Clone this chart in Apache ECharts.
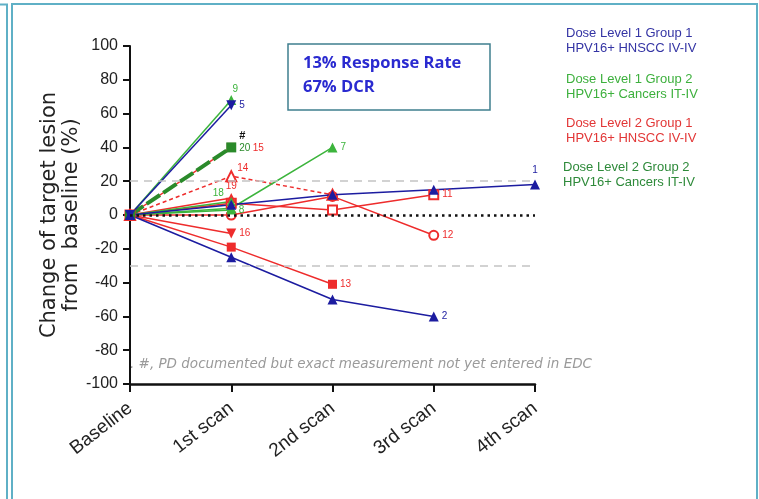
<!DOCTYPE html>
<html><head><meta charset="utf-8">
<script src="https://cdn.jsdelivr.net/npm/echarts@6/dist/echarts.min.js"></script>
<style>html,body{margin:0;padding:0;background:#fff}#c{width:759px;height:499px}</style>
</head><body><div id="c"></div>
<script>
const categories = ['Baseline', '1st scan', '2nd scan', '3rd scan', '4th scan'];
const yMin = -100, yMax = 100, yStep = 20;
const refLines = [20, -30];
const zeroLine = 0;

// patient values (% change from baseline) per scan
const p1 = [0, 6, 12, 15, 18];
const p2 = [0, -25, -50, -60];
const p5 = [0, 65];
const p7 = [0, 4, 40];
const p8 = [0, 3];
const p9 = [0, 68];
const p11 = [0, 7, 3, 12];
const p12 = [0, 0, 11, -12];
const p13 = [0, -19, -41];
const p14 = [0, 23, 12];
const p15 = [0, 40];
const p16 = [0, -11];
const p18 = [0, 8];
const p19 = [0, 10];
const p20 = [0, 40];

const groupNames = [
  ['Dose Level 1 Group 1', 'HPV16+ HNSCC IV-IV'],
  ['Dose Level 1 Group 2', 'HPV16+ Cancers IT-IV'],
  ['Dose Level 2 Group 1', 'HPV16+ HNSCC IV-IV'],
  ['Dose Level 2 Group 2', 'HPV16+ Cancers IT-IV']
];
const boxLines = ['13% Response Rate', '67% DCR'];
const noteText = '. #, PD documented but exact measurement not yet entered in EDC';

const C = {
  blue: '#1c1ca0',
  green: '#3cb43c',
  red: '#ee2c2c',
  dgreen: '#2a8a2a'
};
const legendColors = ['#3434a4', '#3db03d', '#e23636', '#2e8a3a'];

function mk(id, data, color, opt) {
  opt = opt || {};
  const labelIdx = opt.labelIdx !== undefined ? opt.labelIdx : data.length - 1;
  const sym = opt.symbol || 'triangle';
  return {
    type: 'line',
    name: 'P' + id,
    data: data.map((v, i) => {
      const d = { value: v };
      if (i === labelIdx) {
        d.label = Object.assign({
          show: true,
          formatter: opt.text || String(id),
          position: opt.pos || 'right',
          distance: 3,
          color: color,
          fontSize: 10,
          fontFamily: 'Arial'
        }, opt.label || {});
      }
      return d;
    }),
    symbol: sym,
    symbolSize: opt.size || 10,
    symbolRotate: opt.rot || 0,
    showAllSymbol: true,
    animation: false,
    lineStyle: Object.assign({ color: color, width: 1.5 }, opt.line || {}),
    itemStyle: { color: color, borderColor: color, borderWidth: sym.startsWith('empty') ? 1.5 : 0 },
    label: { show: false },
    emphasis: { disabled: true },
    z: opt.z || 2
  };
}

const series = [
  mk(12, p12, C.red, { symbol: 'emptyCircle', size: 9 }),
  mk(11, p11, C.red, { symbol: 'emptyRect', size: 9 }),
  mk(14, p14, C.red, { symbol: 'emptyTriangle', size: 10, labelIdx: 1, pos: 'right', line: { type: [4, 3] },
    label: { offset: [-3, -8] } }),
  mk(13, p13, C.red, { symbol: 'rect', size: 9 }),
  mk(16, p16, C.red, { symbol: 'triangle', rot: 180, size: 10 }),
  mk(19, p19, C.red, { symbol: 'triangle', size: 10, pos: 'top', label: { distance: 2 } }),
  mk(15, p15, C.red, { symbol: 'rect', size: 9, label: { offset: [14, 1] } }),
  mk(8, p8, C.green, { symbol: 'triangle', size: 9 }),
  mk(18, p18, C.green, { symbol: 'triangle', size: 9, pos: 'left', label: { offset: [0, -8] } }),
  mk(7, p7, C.green, { symbol: 'triangle', size: 10 }),
  mk(9, p9, C.green, { symbol: 'triangle', size: 10, pos: 'top', label: { offset: [4, 2] } }),
  mk(20, p20, C.dgreen, { symbol: 'rect', size: 10, line: { width: 4, type: [16, 4] },
    text: '{h|#}\n20', label: { offset: [0, -5], lineHeight: 12,
      rich: { h: { color: '#111', fontSize: 11, fontWeight: 'bold', fontFamily: 'Arial' } } } }),
  mk(5, p5, C.blue, { symbol: 'triangle', rot: 180, size: 10 }),
  mk(2, p2, C.blue, { symbol: 'triangle', size: 10 }),
  mk(1, p1, C.blue, { symbol: 'triangle', size: 10, pos: 'top', label: { distance: 4 } })
];

// reference lines
series[0].markLine = {
  silent: true,
  symbol: 'none',
  animation: false,
  label: { show: false },
  data: refLines.map(v => ({ yAxis: v, lineStyle: { color: '#c4c4c4', width: 1.5, type: [8, 6] } }))
    .concat([{ yAxis: zeroLine, lineStyle: { color: '#111', width: 2.5, type: [2.5, 4] } }])
};
series[0].z = 1;

const chart = echarts.init(document.getElementById('c'), null, { renderer: 'canvas' });

const legendG = [];
const legendY = [34, 80, 124, 168];
groupNames.forEach((g, i) => {
  legendG.push({
    type: 'text', left: i === 3 ? 563 : 566, top: legendY[i] - 8,
    style: { text: g[0] + '\n' + g[1], fill: legendColors[i], font: '13px Arial', lineHeight: 15 }
  });
});

chart.setOption({
  backgroundColor: '#ffffff',
  animation: false,
  grid: { left: 130, right: 224, top: 46, bottom: 115, containLabel: false },
  xAxis: {
    type: 'category',
    data: categories,
    boundaryGap: false,
    axisLine: { onZero: false, lineStyle: { color: '#111', width: 2.5 } },
    axisTick: { length: 8, lineStyle: { color: '#111', width: 2 } },
    axisLabel: { rotate: 38, fontSize: 19, color: '#222', fontFamily: 'Arial', margin: 22 },
    splitLine: { show: false }
  },
  yAxis: {
    type: 'value',
    min: yMin, max: yMax, interval: yStep,
    name: 'Change of target lesion\nfrom  baseline (%)',
    nameLocation: 'middle',
    nameGap: 47,
    nameMoveOverlap: false,
    nameTextStyle: { fontSize: 21, color: '#222', fontFamily: '"DejaVu Sans"', lineHeight: 22 },
    axisLine: { show: true, lineStyle: { color: '#111', width: 2 } },
    axisTick: { show: true, length: 7, lineStyle: { color: '#111', width: 2 } },
    axisLabel: { fontSize: 16, color: '#222', fontFamily: 'Arial', margin: 12 },
    splitLine: { show: false }
  },
  series: series,
  graphic: [
    { type: 'polyline', silent: true, shape: { points: [[0, 4.5], [7, 4.5], [7, 499]] },
      style: { stroke: '#5fb0c6', lineWidth: 2, fill: null } },
    { type: 'rect', silent: true, shape: { x: 12, y: 4, width: 745, height: 510 },
      style: { stroke: '#5fb0c6', lineWidth: 2, fill: null } },
    { type: 'rect', silent: true, shape: { x: 288, y: 44, width: 202, height: 66 },
      style: { stroke: '#3f7f8f', lineWidth: 1.5, fill: '#ffffff' } },
    { type: 'text', left: 303, top: 51,
      style: { text: boxLines.join('\n'), fill: '#2a2ad0', font: 'bold 16.5px "Open Sans"', lineHeight: 24 } },
    { type: 'text', left: 130, top: 357,
      style: { text: noteText, fill: '#9a9a9a', font: 'oblique 13.5px "DejaVu Sans"' } }
  ].concat(legendG)
});
</script>
</body></html>
